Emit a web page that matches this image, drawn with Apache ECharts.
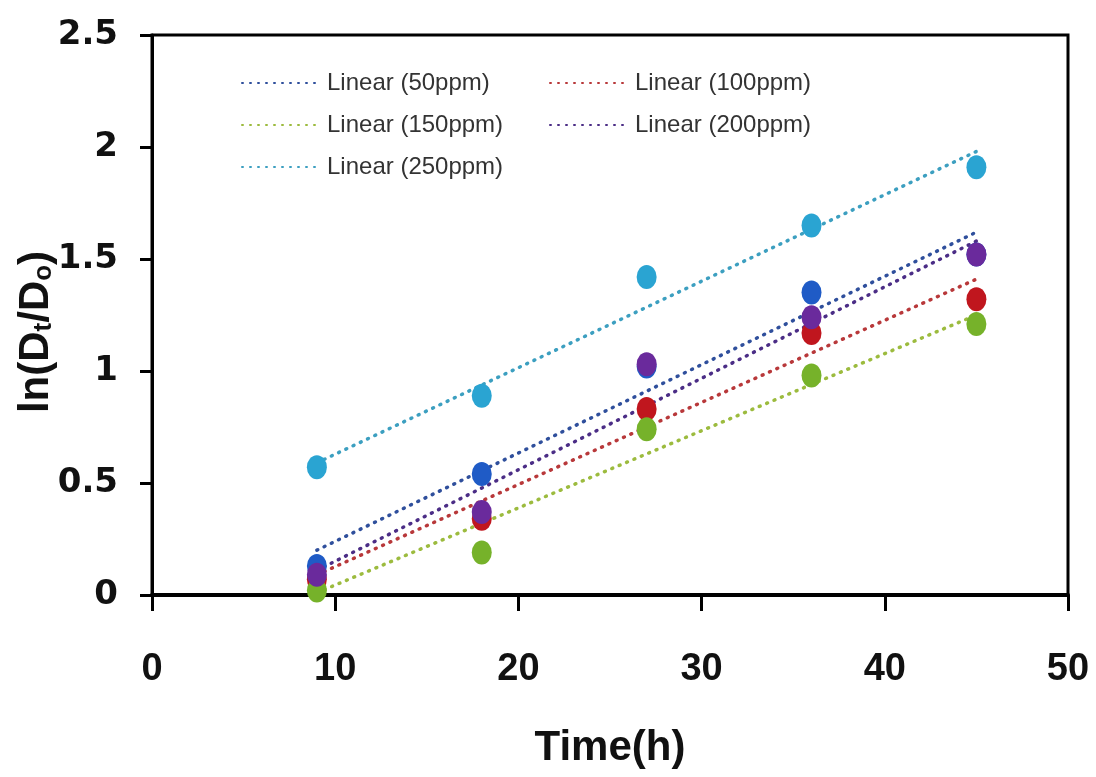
<!DOCTYPE html>
<html>
<head>
<meta charset="utf-8">
<script src="https://cdn.jsdelivr.net/npm/echarts@6/dist/echarts.min.js"></script>
<style>
  html, body { margin: 0; padding: 0; background: #fff; }
  #chart { width: 1096px; height: 777px; }
</style>
</head>
<body>
<div id="chart"></div>
<script>
let myChart = echarts.init(document.getElementById("chart"));

// time points (h)
const times = [9, 18, 27, 36, 45];
// ln(Dt/Do)
const ppm50 = [0.13, 0.54, 1.02, 1.35, 1.52];
const ppm100 = [0.07, 0.34, 0.83, 1.17, 1.32];
const ppm150 = [0.02, 0.19, 0.74, 0.98, 1.21];
const ppm200 = [0.09, 0.37, 1.03, 1.24, 1.52];
const ppm250 = [0.57, 0.89, 1.42, 1.65, 1.91];

// linear trend lines, values read at t = 9 and t = 45
const trendTimes = [9, 45];
const trend50 = [0.20, 1.62];
const trend100 = [0.09, 1.41];
const trend150 = [0.01, 1.25];
const trend200 = [0.11, 1.58];
const trend250 = [0.59, 1.98];

const xTicks = [0, 10, 20, 30, 40, 50];
const yTicks = [0, 0.5, 1, 1.5, 2, 2.5];

const names = ["50ppm", "100ppm", "150ppm", "200ppm", "250ppm"];
const points = [ppm50, ppm100, ppm150, ppm200, ppm250];
const trends = [trend50, trend100, trend150, trend200, trend250];
const dotColors = ["#1f5bc6", "#c0161e", "#76b22a", "#6a2a9c", "#2aa4d2"];
const lineColors = ["#2f4f9c", "#b8383a", "#9cbb3e", "#4b2d86", "#3c9fc0"];

let series = [];
// trend lines first (drawn below markers)
names.forEach((n, i) => {
  series.push({
    name: "Linear (" + n + ")",
    type: "line",
    data: trendTimes.map((t, k) => [t, trends[i][k]]),
    symbol: "none",
    silent: true,
    z: 2,
    lineStyle: { color: lineColors[i], width: 3.5, type: [1, 7], cap: "round" },
    itemStyle: { color: lineColors[i] }
  });
});
names.forEach((n, i) => {
  series.push({
    name: n,
    type: "scatter",
    data: times.map((t, k) => [t, points[i][k]]),
    symbol: "circle",
    symbolSize: [20, 24],
    z: 3 + i,
    itemStyle: { color: dotColors[i], opacity: 1 }
  });
});

const legendText = {
  fontFamily: "Liberation Sans",
  fontSize: 24,
  color: "#333"
};
const legendBase = {
  orient: "vertical",
  top: 66,
  itemWidth: 80,
  itemHeight: 10,
  itemGap: 18,
  itemStyle: { opacity: 0 },
  textStyle: legendText
};

myChart.setOption({
  animation: false,
  grid: { left: 152, right: 28, top: 35, bottom: 182, show: true, borderColor: "#000", borderWidth: 3 },
  legend: [
    Object.assign({}, legendBase, {
      data: ["Linear (50ppm)", "Linear (150ppm)", "Linear (250ppm)"],
      left: 236
    }),
    Object.assign({}, legendBase, {
      data: ["Linear (100ppm)", "Linear (200ppm)"],
      left: 544
    })
  ],
  xAxis: {
    type: "value",
    min: xTicks[0],
    max: xTicks[xTicks.length - 1],
    interval: 10,
    name: "Time(h)",
    nameLocation: "middle",
    nameGap: 132,
    nameMoveOverlap: false,
    nameTextStyle: { fontFamily: "Liberation Sans", fontWeight: "bold", fontSize: 42, color: "#111" },
    axisLine: { onZero: false, lineStyle: { color: "#000", width: 4 } },
    axisTick: { show: true, inside: false, length: 16, lineStyle: { color: "#000", width: 3 } },
    axisLabel: { margin: 56, fontFamily: "Liberation Sans", fontWeight: "bold", fontSize: 38, color: "#111" },
    splitLine: { show: false }
  },
  yAxis: {
    type: "value",
    min: yTicks[0],
    max: yTicks[yTicks.length - 1],
    interval: 0.5,
    name: "{a|ln(D}{s|t}{a|/D}{s|o}{a|)}",
    nameLocation: "middle",
    nameGap: 95,
    nameMoveOverlap: false,
    nameTextStyle: {
      padding: [0, 34, 0, 0],
      rich: {
        a: { fontFamily: "Liberation Sans", fontWeight: "bold", fontSize: 42, color: "#111" },
        s: { fontFamily: "Liberation Sans", fontWeight: "bold", fontSize: 26, color: "#111", verticalAlign: "bottom", padding: [14, 0, 0, 0] }
      }
    },
    axisLine: { show: true, lineStyle: { color: "#000", width: 3 } },
    axisTick: { show: true, inside: false, length: 12, lineStyle: { color: "#000", width: 3 } },
    axisLabel: { margin: 34, fontFamily: "DejaVu Sans", fontWeight: "bold", fontSize: 34, color: "#111" },
    splitLine: { show: false }
  },
  series: series
});
</script>
</body>
</html>
